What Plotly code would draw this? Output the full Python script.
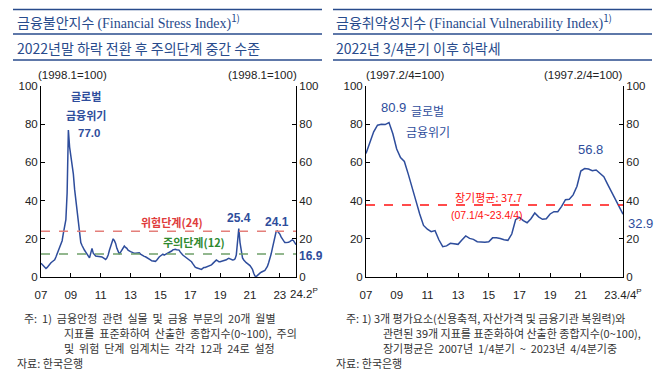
import plotly.graph_objects as go

W, H = 664, 381

# ---------------- data ----------------
# Financial Stress Index, monthly, 2007.01 ~ 2024.02
fsi_2007 = [7.2, 6.5, 5.5, 4.8, 4.5, 5.0, 6.0, 7.0, 7.5, 8.0, 8.5, 9.0]
fsi_2008 = [10.5, 12.0, 13.5, 15.0, 17.0, 19.0, 23.0, 26.0, 30.0, 44.0, 77.0, 68.0]
fsi_2009 = [64.0, 58.0, 54.0, 46.0, 40.0, 33.0, 27.0, 22.0, 18.0, 16.5, 15.0, 14.0]
fsi_2010 = [13.0, 12.0, 11.0, 10.0, 12.5, 15.0, 12.5, 11.5, 11.0, 10.8, 10.6, 10.6]
fsi_2011 = [10.6, 10.5, 10.0, 9.5, 9.2, 10.0, 11.5, 14.0, 16.0, 18.5, 20.0, 19.0]
fsi_2012 = [17.6, 15.0, 13.0, 12.0, 13.0, 14.0, 15.5, 16.2, 15.5, 15.0, 14.0, 13.5]
fsi_2013 = [13.3, 13.0, 12.5, 12.4, 12.5, 12.6, 12.8, 12.7, 12.0, 11.5, 11.0, 10.8]
fsi_2014 = [10.6, 10.3, 10.0, 9.5, 9.0, 8.5, 8.3, 8.0, 8.2, 8.8, 9.8, 10.5]
fsi_2015 = [11.0, 11.5, 12.0, 11.5, 11.8, 12.4, 12.5, 12.7, 13.0, 13.6, 14.2, 14.5]
fsi_2016 = [14.5, 14.3, 14.0, 14.1, 13.0, 12.0, 11.5, 11.0, 10.5, 10.0, 9.5, 9.0]
fsi_2017 = [8.9, 8.0, 7.0, 5.8, 5.2, 4.8, 4.5, 4.3, 4.0, 4.0, 4.5, 5.0]
fsi_2018 = [5.0, 5.2, 5.4, 5.5, 5.8, 6.3, 7.0, 7.5, 8.2, 8.9, 8.5, 8.0]
fsi_2019 = [8.0, 8.2, 8.4, 8.6, 8.6, 9.0, 9.5, 9.8, 9.5, 9.0, 8.9, 9.0]
fsi_2020 = [9.5, 11.5, 18.0, 25.4, 18.0, 14.0, 10.0, 8.9, 8.0, 7.5, 7.0, 6.5]
fsi_2021 = [6.0, 5.0, 4.0, 2.0, 0.5, 0.2, 1.0, 1.6, 2.0, 2.5, 2.8, 3.5]
fsi_2022 = [3.5, 4.5, 5.5, 7.5, 9.5, 12.0, 15.0, 18.5, 21.5, 23.7, 24.1, 23.5]
fsi_2023 = [22.5, 21.0, 20.0, 18.5, 18.0, 18.0, 18.0, 18.2, 18.5, 19.0, 19.4, 19.0]
fsi_2024 = [18.0, 16.9]
fsi = (fsi_2007 + fsi_2008 + fsi_2009 + fsi_2010 + fsi_2011 + fsi_2012 + fsi_2013
       + fsi_2014 + fsi_2015 + fsi_2016 + fsi_2017 + fsi_2018 + fsi_2019 + fsi_2020
       + fsi_2021 + fsi_2022 + fsi_2023 + fsi_2024)
fsi_tick_labels = ["07", "09", "11", "13", "15", "17", "19", "21", "23", ""]
fsi_last_label = "24.2<sup>P</sup>"
fsi_caution, fsi_danger = 12, 24

# Financial Vulnerability Index, quarterly, 2007Q1 ~ 2023Q4
fvi_2007 = [64.7, 70.5, 76.0, 79.5]
fvi_2008 = [80.0, 79.8, 80.9, 75.0]
fvi_2009 = [67.0, 62.5, 60.5, 54.0]
fvi_2010 = [47.5, 40.0, 33.0, 27.0]
fvi_2011 = [25.0, 23.7, 24.3, 19.5]
fvi_2012 = [15.9, 16.3, 17.6, 17.3]
fvi_2013 = [17.1, 19.4, 21.5, 20.2]
fvi_2014 = [19.7, 18.5, 18.2, 18.2]
fvi_2015 = [18.5, 20.5, 20.5, 20.2]
fvi_2016 = [19.5, 19.2, 22.5, 30.0]
fvi_2017 = [31.2, 29.5, 28.4, 30.5]
fvi_2018 = [33.5, 31.5, 30.2, 30.5]
fvi_2019 = [33.0, 34.2, 34.2, 37.0]
fvi_2020 = [40.5, 40.7, 43.0, 47.5]
fvi_2021 = [55.5, 56.8, 56.5, 55.6]
fvi_2022 = [56.0, 54.0, 52.5, 48.5]
fvi_2023 = [44.5, 40.5, 36.5, 32.9]
fvi = (fvi_2007 + fvi_2008 + fvi_2009 + fvi_2010 + fvi_2011 + fvi_2012 + fvi_2013
       + fvi_2014 + fvi_2015 + fvi_2016 + fvi_2017 + fvi_2018 + fvi_2019 + fvi_2020
       + fvi_2021 + fvi_2022 + fvi_2023)
fvi_tick_labels = ["07", "09", "11", "13", "15", "17", "19", "21", "23.4/4<sup>P</sup>"]
fvi_long_avg = 37.7

y_ticks = [0, 20, 40, 60, 80, 100]

# ---------------- style ----------------
LINE = "#2e4d9c"
TITLE = "#284b8c"
TXT = "#222"
SANS = "Noto Sans CJK KR"
NUM = "Liberation Sans, Noto Sans CJK KR"


def px(x):
    return x / W


def py(y):
    return 1 - y / H


fsi_x = list(range(len(fsi)))
fvi_x = list(range(len(fvi)))
fsi_tickvals = [i * 24 for i in range(9)] + [len(fsi) - 1]
fvi_tickvals = [i * 8 for i in range(8)] + [len(fvi) - 1]

fig = go.Figure()
fig.add_trace(go.Scatter(x=fsi_x, y=fsi, mode="lines", line=dict(color=LINE, width=1.5),
                         xaxis="x", yaxis="y", hoverinfo="skip", showlegend=False))
fig.add_trace(go.Scatter(x=fsi_x, y=fsi, mode="lines", line=dict(width=0), opacity=0,
                         xaxis="x", yaxis="y2", hoverinfo="skip", showlegend=False))
fig.add_trace(go.Scatter(x=fvi_x, y=fvi, mode="lines", line=dict(color=LINE, width=1.5),
                         xaxis="x2", yaxis="y3", hoverinfo="skip", showlegend=False))
fig.add_trace(go.Scatter(x=fvi_x, y=fvi, mode="lines", line=dict(width=0), opacity=0,
                         xaxis="x2", yaxis="y4", hoverinfo="skip", showlegend=False))

ydom = [py(277), py(86)]
axis_common = dict(showline=True, linecolor="black", linewidth=1, ticks="inside",
                   ticklen=4, tickcolor="black", showgrid=False, zeroline=False,
                   automargin=False, tickangle=0,
                   tickfont=dict(family=NUM, size=11.5, color=TXT), fixedrange=True)
x_extra = dict(ticklabelstandoff=7)

fig.update_layout(
    template="none",
    width=W, height=H, margin=dict(l=0, r=0, t=0, b=0, autoexpand=False),
    paper_bgcolor="white", plot_bgcolor="white",
    font=dict(family=SANS, color=TXT),
    xaxis=dict(domain=[px(41), px(296)], anchor="y", range=[0, len(fsi) - 1],
               tickvals=fsi_tickvals, ticktext=fsi_tick_labels, **axis_common, **x_extra),
    yaxis=dict(domain=ydom, anchor="x", range=[0, 100], tickvals=y_ticks, **axis_common),
    yaxis2=dict(overlaying="y", anchor="x", side="right", range=[0, 100],
                tickvals=y_ticks, **axis_common),
    xaxis2=dict(domain=[px(366), px(623)], anchor="y3", range=[0, len(fvi) - 1],
                tickvals=fvi_tickvals, ticktext=fvi_tick_labels, **axis_common, **x_extra),
    yaxis3=dict(domain=ydom, anchor="x2", range=[0, 100], tickvals=y_ticks, **axis_common),
    yaxis4=dict(overlaying="y3", anchor="x2", side="right", range=[0, 100],
                tickvals=y_ticks, **axis_common),
)

shapes = []
# header rules
for y in (9.5, 34, 60):
    shapes.append(dict(type="line", xref="paper", yref="paper", x0=px(13), x1=px(322),
                       y0=py(y), y1=py(y), line=dict(color=TITLE, width=1.5)))
    shapes.append(dict(type="line", xref="paper", yref="paper", x0=px(333), x1=px(652),
                       y0=py(y), y1=py(y), line=dict(color=TITLE, width=1.5)))
# thresholds
shapes.append(dict(type="line", xref="x", yref="y", x0=0, x1=len(fsi) - 1,
                   y0=fsi_danger, y1=fsi_danger, line=dict(color="#e47f7a", width=1.5, dash="dash")))
shapes.append(dict(type="line", xref="x", yref="y", x0=0, x1=len(fsi) - 1,
                   y0=fsi_caution, y1=fsi_caution, line=dict(color="#6fa06a", width=1.5, dash="dash")))
shapes.append(dict(type="line", xref="x2", yref="y3", x0=0, x1=len(fvi) - 1,
                   y0=fvi_long_avg, y1=fvi_long_avg, line=dict(color="#ff1010", width=1.5, dash="dash")))
fig.update_layout(shapes=shapes)

ann = []


def A(text, x, y, size=12, color=TXT, xanchor="center", family=SANS, **kw):
    ann.append(dict(text=text, x=px(x), y=py(y), xref="paper", yref="paper",
                    xanchor=xanchor, yanchor="middle", showarrow=False,
                    font=dict(family=family, size=size, color=color), **kw))


def D(text, xv, yv, xr, yr, xshift=0, yshift=0, xanchor="center", yanchor="middle",
      size=12, bold=False, color=LINE):
    ann.append(dict(text=("<b>%s</b>" % text) if bold else text, x=xv, y=yv, xref=xr, yref=yr,
                    xanchor=xanchor, yanchor=yanchor, xshift=xshift, yshift=yshift,
                    showarrow=False, font=dict(family=NUM, size=size, color=color)))


SER = '<span style="font-family:Liberation Serif">'
# titles
A("금융불안지수 " + SER + "(Financial Stress Index)</span><sup>1)</sup>", 15, 22,
  size=14, color=TITLE, xanchor="left")
A("2022년말 하락 전환 후 주의단계 중간 수준", 15, 48, size=14, color=TITLE, xanchor="left")
A("금융취약성지수 " + SER + "(Financial Vulnerability Index)</span><sup>1)</sup>", 334, 22,
  size=14, color=TITLE, xanchor="left")
A("2022년 3/4분기 이후 하락세", 334, 48, size=14, color=TITLE, xanchor="left")

# units
A("(1998.1=100)", 72, 75, size=11.5, family=NUM)
A("(1998.1=100)", 262, 75, size=11.5, family=NUM)
A("(1997.2/4=100)", 405, 75, size=11.5, family=NUM)
A("(1997.2/4=100)", 583, 75, size=11.5, family=NUM)

# last x tick label of the left chart, set just right of its tick
D(fsi_last_label, len(fsi) - 1, 0, "x", "y", xshift=8, yshift=-16, size=11.5, color=TXT)

# left chart labels
A("<b>글로벌</b>", 86, 96, size=11, color=LINE)
A("<b>금융위기</b>", 86, 115, size=11, color=LINE)
i_gfc = fsi.index(max(fsi))
D("77.0", i_gfc, fsi[i_gfc], "x", "y", xshift=8, yshift=-3, xanchor="left", size=11.5, bold=True)
i_covid = 150 + fsi[150:170].index(max(fsi[150:170]))
D("25.4", i_covid, fsi[i_covid], "x", "y", yshift=1, yanchor="bottom", size=12, bold=True)
i_22 = 180 + fsi[180:].index(max(fsi[180:]))
D("24.1", i_22, fsi[i_22], "x", "y", yshift=0, yanchor="bottom", size=12, bold=True)
D("16.9", len(fsi) - 1, fsi[-1], "x", "y", xshift=1, yshift=-11, xanchor="left", size=12, bold=True)
A("<b>위험단계(24)</b>", 172, 222, size=11, color="#e03c3c")
A("<b>주의단계(12)</b>", 194, 242, size=11, color="#2f8a2f")

# right chart labels
i_f1 = fvi.index(max(fvi))
D("80.9", i_f1, fvi[i_f1], "x2", "y3", xshift=4, yshift=5, yanchor="bottom", size=13)
i_f2 = 48 + fvi[48:].index(max(fvi[48:]))
D("56.8", i_f2, fvi[i_f2], "x2", "y3", xshift=6, yshift=10, yanchor="bottom", size=13)
D("32.9", len(fvi) - 1, fvi[-1], "x2", "y3", xshift=3, yshift=-9, xanchor="left", size=13)
A("글로벌", 427, 111, size=12, color=LINE)
A("금융위기", 428, 131, size=12, color=LINE)
A("장기평균: 37.7", 488, 197, size=11, color="#ff1010")
A("(07.1/4~23.4/4)", 487, 215, size=10.5, color="#ff1010", family=NUM)

# footnotes
NB = "\u00a0"


def wide(s):
    return s.replace(" ", NB + " ")


fn_kw = dict(size=11, color="#333", xanchor="left", height=14, valign="middle")
A(wide("주: 1) 금융안정 관련 실물 및 금융 부문의 20개 월별"), 22, 318, **fn_kw)
A(wide("지표를 표준화하여 산출한 종합지수(0~100), 주의"), 62, 333, **fn_kw)
A(wide("및 위험 단계 임계치는 각각 12과 24로 설정"), 62, 348, **fn_kw)
A("자료: 한국은행", 15, 363, **fn_kw)
A("주: 1) 3개 평가요소(신용축적, 자산가격 및 금융기관 복원력)와", 344, 318, **fn_kw)
A("관련된 39개 지표를 표준화하여 산출한 종합지수(0~100),", 381, 333, **fn_kw)
A(wide("장기평균은 2007년 1/4분기 ~ 2023년 4/4분기중"), 381, 348, **fn_kw)
A("자료: 한국은행", 334, 363, **fn_kw)

fig.update_layout(annotations=ann)
fig.write_html("out.html", config={"displayModeBar": False},
               post_script="document.body.style.margin='0';")
